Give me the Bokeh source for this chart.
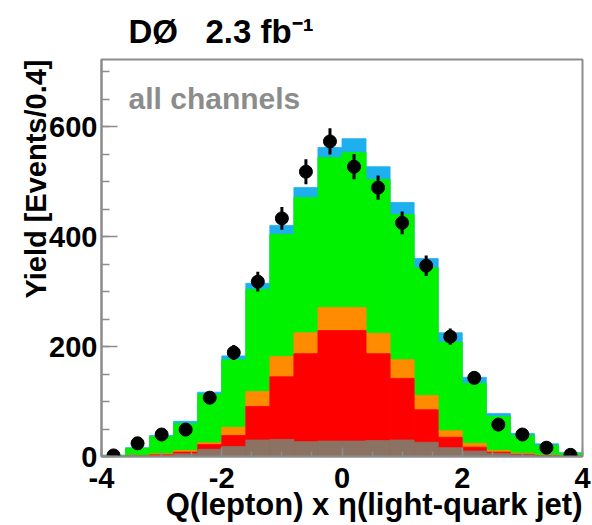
import numpy as np
from bokeh.plotting import figure
from bokeh.models import Label, Range1d, SingleIntervalTicker, Title, PrintfTickFormatter
from bokeh.embed import file_html
from bokeh.resources import INLINE

# ---- data ----
bin_left = [-4.0, -3.6, -3.2, -2.8, -2.4, -2.0, -1.6, -1.2, -0.8, -0.4,
            0.0, 0.4, 0.8, 1.2, 1.6, 2.0, 2.4, 2.8, 3.2, 3.6]
bin_right = [-3.6, -3.2, -2.8, -2.4, -2.0, -1.6, -1.2, -0.8, -0.4, 0.0,
             0.4, 0.8, 1.2, 1.6, 2.0, 2.4, 2.8, 3.2, 3.6, 4.0]
bin_center = [-3.8, -3.4, -3.0, -2.6, -2.2, -1.8, -1.4, -1.0, -0.6, -0.2,
              0.2, 0.6, 1.0, 1.4, 1.8, 2.2, 2.6, 3.0, 3.4, 3.8]

# background components (events per bin), bottom to top of the stack
brown = [0, 0.5, 1.5, 5, 13, 18, 30, 31, 27, 28, 28, 29, 30, 26, 16, 10, 6, 3, 1, 0.3]
red = [0, 0.5, 1.5, 3, 9, 20, 61, 114, 160, 201, 201, 158, 112, 59, 19, 7, 2, 1, 0.5, 0.2]
orange = [0.3, 0.5, 2, 3, 3, 15, 27, 37, 38, 42, 42, 37, 34, 26, 12, 7, 3, 2, 1, 0.5]
green = [1.7, 13.5, 31, 49, 88, 123, 186, 222, 246, 273, 282, 280, 264, 232, 161, 109, 62, 32, 17.5, 5]
cyan = [0.5, 1, 2, 4, 4, 7, 11, 16, 18, 18, 25, 23, 22, 17, 17, 11, 5, 4, 3, 1]

# observed data and its uncertainty
data = [2, 24, 40, 49, 107, 189, 318, 433, 518, 573, 527, 489, 425, 347, 218, 143, 58, 40, 16, 3]
data_err = [1.4, 4.9, 6.3, 7.0, 10.3, 13.7, 17.8, 20.8, 22.8, 23.9,
            23.0, 22.1, 20.6, 18.6, 14.8, 12.0, 7.6, 6.3, 4.0, 1.7]

layer_values = [brown, red, orange, green, cyan]
layer_colors = ["#8b7262", "#ff0000", "#ff8c00", "#00f200", "#1eb0ee"]

FONT = "Liberation Sans"
GRAY = "#8c8c8c"

p = figure(width=592, height=525, output_backend="svg", toolbar_location=None,
           x_range=Range1d(-4, 4), y_range=Range1d(0, 722),
           min_border_left=101, min_border_right=10,
           min_border_top=59, min_border_bottom=69)
p.background_fill_color = "white"
p.border_fill_color = "white"
p.grid.visible = False
p.outline_line_color = GRAY
p.outline_line_width = 2

# top title
p.title.text = "DØ\u00a0\u00a0\u00a02.3 fb⁻¹"
p.title.align = "left"
p.title.offset = 27
p.title.standoff = 19
p.title.text_font = FONT
p.title.text_font_style = "bold"
p.title.text_font_size = "33px"
p.title.text_color = "black"

# stacked histogram: draw cumulative tops from largest to smallest
stack = np.cumsum(np.array(layer_values, dtype=float), axis=0)
for i in reversed(range(len(layer_values))):
    p.quad(left=bin_left, right=bin_right, bottom=0, top=stack[i],
           fill_color=layer_colors[i], line_color=layer_colors[i], line_width=0.8)

# data points with error bars
lo = [d - e for d, e in zip(data, data_err)]
hi = [d + e for d, e in zip(data, data_err)]
p.segment(x0=bin_center, y0=lo, x1=bin_center, y1=hi, line_color="black", line_width=3)
p.scatter(x=bin_center, y=data, size=13, fill_color="black", line_color="black")

# axes
p.xaxis.ticker = SingleIntervalTicker(interval=2, num_minor_ticks=4)
p.yaxis.ticker = SingleIntervalTicker(interval=200, num_minor_ticks=4)
p.xaxis.formatter = PrintfTickFormatter(format="%d")
p.yaxis.formatter = PrintfTickFormatter(format="%d")
for ax in (p.xaxis[0], p.yaxis[0]):
    ax.axis_line_color = GRAY
    ax.axis_line_width = 2
    ax.major_tick_line_color = GRAY
    ax.minor_tick_line_color = GRAY
    ax.major_tick_line_width = 1.5
    ax.minor_tick_line_width = 1.5
    ax.major_tick_out = 0
    ax.minor_tick_out = 0
    ax.major_label_text_font = FONT
    ax.major_label_text_font_style = "bold"
    ax.major_label_text_font_size = "29px"
    ax.major_label_text_color = "black"
p.yaxis.major_tick_in = 16
p.yaxis.minor_tick_in = 8
p.xaxis.major_tick_in = 9
p.xaxis.minor_tick_in = 5
p.yaxis.major_label_standoff = 4
p.xaxis.major_label_standoff = 11

# axis titles (aligned to the axis ends)
ytitle = Title(text="Yield [Events/0.4]", align="right", standoff=-10,
               text_font=FONT, text_font_style="bold", text_font_size="29px",
               text_color="black")
p.add_layout(ytitle, "left")
xtitle = Title(text="Q(lepton) x η(light-quark jet)", align="right", standoff=-12,
               text_font=FONT, text_font_style="bold", text_font_size="31px",
               text_color="black")
p.add_layout(xtitle, "below")

# in-frame text
p.add_layout(Label(x=-3.55, y=651, text="all channels", text_font=FONT,
                   text_font_style="bold", text_font_size="30px",
                   text_color=GRAY, text_baseline="alphabetic"))

open("out.html", "w").write(file_html(p, INLINE))
